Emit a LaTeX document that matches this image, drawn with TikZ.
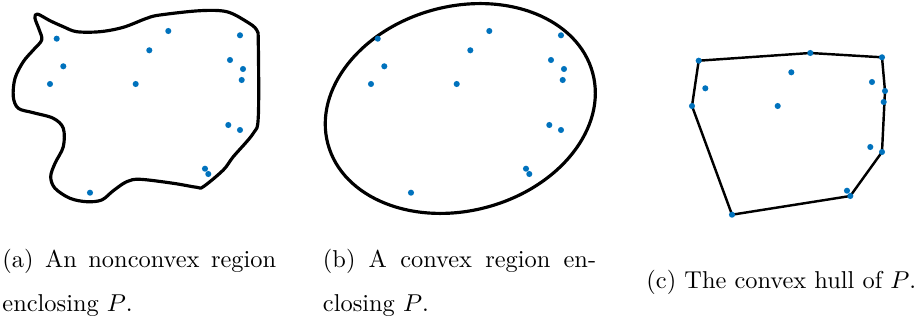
\documentclass[tikz,border=0pt]{standalone}
\usepackage{amsmath, amssymb}
\usepackage{tikz}
\usetikzlibrary{calc, backgrounds}
\definecolor{azulpunto}{RGB}{0,114,189}

\begin{document}
\begin{tikzpicture}[
      x=0.41pt, y=-0.41pt,
      punto/.style={circle, fill=azulpunto, inner sep=0pt, minimum size=2.5pt},
      contorno/.style={line width=1.3pt, line join=round},
      envolvente/.style={line width=1pt, line join=round},
      leyenda/.style={anchor=base west, inner sep=0pt}]
    \useasboundingbox (0,0) rectangle (918,320);
    % (a) region no convexa
    \draw[contorno] plot[smooth cycle, tension=0.55] coordinates {
      (37.3,14) (50,20.7) (63.3,26.7) (76.7,31.7) (100,31.7) (123.3,27.3)
      (146.7,18.3) (160,15) (200,10.7) (226.7,11.7) (246.7,21.7) (256.7,30)
      (258.3,43.3) (258.3,116.7) (253.3,133.3) (233.3,156.7) (223.3,170)
      (203.3,186.7) (196.7,187.3) (173.3,183.3) (140,179.3) (126.7,181.7)
      (113.3,190.7) (101.7,200) (86.7,201.7) (70,198.3) (55,188.3)
      (50.7,176.7) (55,163.3) (63.3,146.7) (63.3,128.3) (53.3,118.3)
      (33.3,112.7) (18.3,108.3) (13.3,96.7) (15,78.3) (23.3,61.7)
      (33.3,50) (41.7,40) (39.3,30) (35,18.3)};
    % (b) region convexa
    \coordinate (centro) at (460.3,108.5);
    \draw[contorno, rotate around={15:(centro)}] (centro)
      ellipse [x radius=56.2pt, y radius=41.9pt];
    % puntos de P
    \foreach \i/\px/\py in {1/56.7/38.7, 2/168.3/31, 3/149.3/50.3,
        4/240/35.3, 5/63.3/66.3, 6/230/60, 7/243/69, 8/50/84,
        9/135.7/84, 10/241.7/80, 11/228.3/125, 12/240/130,
        13/205/168.7, 14/208.3/174, 15/90/192.7} {
      \node[punto] (a\i) at (\px,\py) {};
      \node[punto] (b\i) at (\px+321,\py) {};
      \node[punto] (c\i) at (\px+642,\py+22) {};
    }
    % (c) envolvente convexa
    \begin{scope}[on background layer]
      \draw[envolvente] (c1.center) -- (c2.center) -- (c4.center) -- (c7.center)
        -- (c12.center) -- (c14.center) -- (c15.center) -- (c8.center) -- cycle;
    \end{scope}
    % leyendas
    \node[leyenda] (leyA1) at (2,267.5) {\makebox[112.2pt][s]{(a) An nonconvex region}};
    \node[leyenda] (leyA2) at (2,311.7) {enclosing $P$.};
    \node[leyenda] (leyB1) at (322.5,267.5) {\makebox[112pt][s]{(b) A convex region en-}};
    \node[leyenda] (leyB2) at (322.5,311.7) {closing $P$.};
    \node[leyenda] (leyC) at (646,288.3) {(c) The convex hull of $P$.};
  \end{tikzpicture}
\end{document}
